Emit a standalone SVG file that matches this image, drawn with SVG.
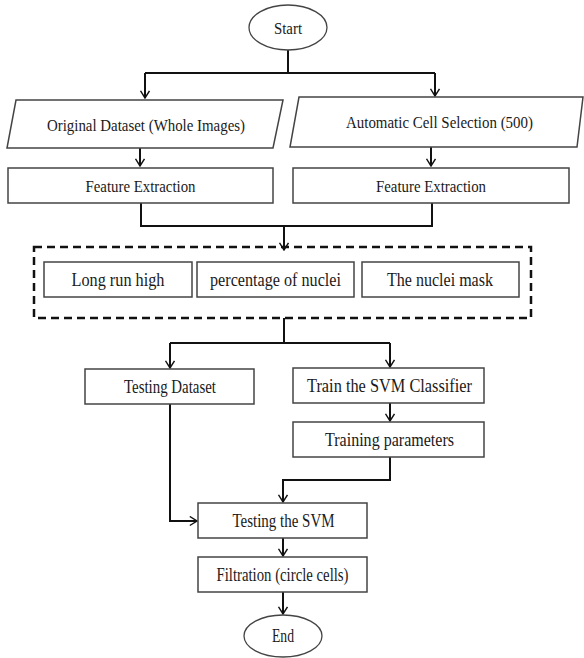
<svg xmlns="http://www.w3.org/2000/svg" width="584" height="658" viewBox="0 0 584 658">
<style>
.box{fill:#fff;stroke:#444;stroke-width:1.5}
.term{fill:#fff;stroke:#444;stroke-width:1.3}
.t{font-family:"Liberation Serif","Times New Roman",serif;font-size:17px;fill:#1a1a1a;text-anchor:middle}
.l{font-size:18px}
.c{fill:none;stroke:#111;stroke-width:2}
.dash{fill:none;stroke:#111;stroke-width:2.5;stroke-dasharray:8 5}
</style>
<defs>
<marker id="arr" viewBox="0 0 10 12" refX="9" refY="6" markerWidth="9" markerHeight="11" markerUnits="userSpaceOnUse" orient="auto">
<path d="M1,1 L9,6 L1,11" fill="none" stroke="#111" stroke-width="1.6"/>
</marker>
</defs>
<rect width="584" height="658" fill="#fff"/>

<g id="connectors">
<path class="c" d="M288,50 V73 M145,73 H435"/>
<path class="c" d="M145,73 V98" marker-end="url(#arr)"/>
<path class="c" d="M435,73 V96" marker-end="url(#arr)"/>
<path class="c" d="M140,148 V166" marker-end="url(#arr)"/>
<path class="c" d="M431,147 V166" marker-end="url(#arr)"/>
<path class="c" d="M141,203 V226 H432 V203"/>
<path class="c" d="M284,226 V250" marker-end="url(#arr)"/>
<path class="c" d="M284,318 V343 M170,343 H390"/>
<path class="c" d="M170,343 V368" marker-end="url(#arr)"/>
<path class="c" d="M390,343 V367" marker-end="url(#arr)"/>
<path class="c" d="M390,403 V421" marker-end="url(#arr)"/>
<path class="c" d="M390,457 V480 H283 V502" marker-end="url(#arr)"/>
<path class="c" d="M170,404 V521 H197" marker-end="url(#arr)"/>
<path class="c" d="M283,538 V556" marker-end="url(#arr)"/>
<path class="c" d="M283,592 V614" marker-end="url(#arr)"/>
</g>

<g id="start">
<ellipse class="term" cx="288" cy="27.5" rx="39" ry="22.5"/>
<text class="t" x="288" y="33.5" textLength="28" lengthAdjust="spacingAndGlyphs">Start</text>
</g>

<g id="original-dataset">
<polygon class="box" points="16,100 283,100 273,148 7,148"/>
<text class="t" x="146" y="130.5" textLength="198" lengthAdjust="spacingAndGlyphs">Original Dataset (Whole Images)</text>
</g>

<g id="auto-cell">
<polygon class="box" points="299,97 583,97 577,147 290,147"/>
<text class="t" x="439.5" y="127.5" textLength="187" lengthAdjust="spacingAndGlyphs">Automatic Cell Selection (500)</text>
</g>

<g id="fe-left">
<rect class="box" x="8" y="168" width="265" height="35"/>
<text class="t" x="140.5" y="191.5" textLength="110" lengthAdjust="spacingAndGlyphs">Feature Extraction</text>
</g>

<g id="fe-right">
<rect class="box" x="293" y="168" width="276" height="35"/>
<text class="t" x="431" y="191.5" textLength="110" lengthAdjust="spacingAndGlyphs">Feature Extraction</text>
</g>

<g id="features">
<rect class="dash" x="34" y="247" width="497" height="71"/>
<g id="long-run">
<rect class="box" x="44" y="262" width="148" height="35"/>
<text class="t l" x="118" y="286" textLength="93" lengthAdjust="spacingAndGlyphs">Long run high</text>
</g>
<g id="percentage">
<rect class="box" x="197" y="262" width="157" height="35"/>
<text class="t l" x="275.5" y="286" textLength="131" lengthAdjust="spacingAndGlyphs">percentage of nuclei</text>
</g>
<g id="nuclei-mask">
<rect class="box" x="362" y="262" width="157" height="35"/>
<text class="t l" x="440" y="286" textLength="106" lengthAdjust="spacingAndGlyphs">The nuclei mask</text>
</g>
</g>

<g id="testing-dataset">
<rect class="box" x="85" y="369" width="169" height="35"/>
<text class="t l" x="170" y="393" textLength="92" lengthAdjust="spacingAndGlyphs">Testing Dataset</text>
</g>

<g id="train-svm">
<rect class="box" x="293" y="368" width="191" height="35"/>
<text class="t l" x="389.5" y="392" textLength="165" lengthAdjust="spacingAndGlyphs">Train the SVM Classifier</text>
</g>

<g id="training-params">
<rect class="box" x="293" y="422" width="191" height="35"/>
<text class="t l" x="389.5" y="446" textLength="129" lengthAdjust="spacingAndGlyphs">Training parameters</text>
</g>

<g id="testing-svm">
<rect class="box" x="198" y="503" width="169" height="35"/>
<text class="t l" x="283.5" y="527" textLength="102" lengthAdjust="spacingAndGlyphs">Testing the SVM</text>
</g>

<g id="filtration">
<rect class="box" x="198" y="557" width="169" height="35"/>
<text class="t l" x="282.5" y="581" textLength="132" lengthAdjust="spacingAndGlyphs">Filtration (circle cells)</text>
</g>

<g id="end">
<ellipse class="term" cx="283" cy="636" rx="39" ry="21"/>
<text class="t l" x="283" y="642" textLength="22" lengthAdjust="spacingAndGlyphs">End</text>
</g>
</svg>
